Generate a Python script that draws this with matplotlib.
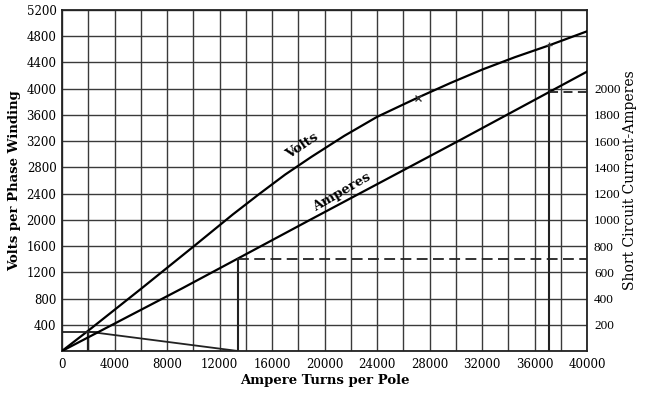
import matplotlib
matplotlib.use("Agg")
import matplotlib.pyplot as plt
from matplotlib.ticker import MultipleLocator, FixedLocator

# ---- data ----
volts_x = [0, 2000, 6000, 10000, 13000, 15000, 17000, 19000, 21500, 24000,
           27100, 29600, 32000, 34500, 37100, 40000]
volts_v = [0, 310, 945, 1590, 2080, 2390, 2690, 2960, 3280, 3570,
           3863, 4087, 4290, 4480, 4660, 4875]

amps_x = [0, 9200, 13400, 18900, 30400, 40000]
amps_a = [0, 480, 705, 1000, 1612, 2130]

# construction lines
tri_h_x = [0, 2800]
tri_h_v = [295, 295]
tri_s_x = [2000, 13400]
tri_s_v = [295, 0]
v2000_x = [2000, 2000]
v2000_v = [0, 295]
vert1_x = [13400, 13400]
vert1_a = [0, 705]
dash1_x = [13400, 40000]
dash1_a = [705, 705]
vert2_x = [37100, 37100]
vert2_v = [0, 4660]
dash2_x = [37100, 40000]
dash2_a = [1971, 1971]
mark_x = [27100]
mark_v = [3863]

x_ticks = list(range(0, 40001, 4000))
y_ticks = list(range(400, 5201, 400))
r_ticks = list(range(200, 2001, 200))

fig = plt.figure(figsize=(6.45, 3.94), dpi=100)
ax = fig.add_axes([62/645, 1-351/394, 525/645, 341/394])
ax.set_xlim(0, 40000)
ax.set_ylim(0, 5200)

ax.xaxis.set_major_locator(FixedLocator(x_ticks))
ax.xaxis.set_minor_locator(MultipleLocator(2000))
ax.yaxis.set_major_locator(FixedLocator(y_ticks))
ax.yaxis.set_minor_locator(MultipleLocator(400))
ax.grid(True, which='both', color='#3a3a3a', lw=1.0)
ax.set_axisbelow(True)
ax.tick_params(which='both', length=0)
ax.tick_params(axis='x', pad=5)
ax.tick_params(axis='y', pad=4)
for lab in ax.get_xticklabels() + ax.get_yticklabels():
    lab.set_fontfamily('DejaVu Serif')
    lab.set_fontsize(8.5)
for s in ax.spines.values():
    s.set_color('#222222')
    s.set_linewidth(1.3)

ax.plot(volts_x, volts_v, color='black', lw=1.6, zorder=5)
ax.plot(tri_h_x, tri_h_v, color='#222222', lw=1.3, zorder=5)
ax.plot(tri_s_x, tri_s_v, color='#222222', lw=1.3, zorder=5)
ax.plot(v2000_x, v2000_v, color='#222222', lw=1.6, zorder=5)
ax.plot(vert2_x, vert2_v, color='#222222', lw=1.5, zorder=5)
ax.plot(mark_x, mark_v, marker='x', color='#333333', ms=4, mew=1.0, zorder=6)
ax.plot([37100], [4660], marker='+', color='#333333', ms=5, mew=1.0, zorder=6)

ax.text(18300, 3130, 'Volts', rotation=34, ha='center', va='center',
        fontfamily='DejaVu Serif', fontweight='bold', fontsize=9.5, zorder=7)
ax.text(21300, 2420, 'Amperes', rotation=30, ha='center', va='center',
        fontfamily='DejaVu Serif', fontweight='bold', fontsize=9.5, zorder=7)

ax.set_xlabel('Ampere Turns per Pole', fontfamily='DejaVu Serif',
              fontweight='heavy', fontsize=9.5, labelpad=2)
ax.set_ylabel('Volts per Phase Winding', fontfamily='DejaVu Serif',
              fontweight='heavy', fontsize=9.5, labelpad=4)

ax2 = ax.twinx()
ax2.set_ylim(0, 2600)
ax2.yaxis.set_major_locator(FixedLocator(r_ticks))
ax2.tick_params(length=0, pad=5)
for lab in ax2.get_yticklabels():
    lab.set_fontfamily('Liberation Serif')
    lab.set_fontsize(9.5)
for s in ax2.spines.values():
    s.set_visible(False)
ax2.plot(amps_x, amps_a, color='black', lw=1.6, zorder=5)
ax2.plot(vert1_x, vert1_a, color='#222222', lw=1.5, zorder=5)
ax2.plot(dash1_x, dash1_a, color='#222222', lw=1.3, ls=(0, (6, 3)), zorder=5)
ax2.plot(dash2_x, dash2_a, color='#222222', lw=1.3, ls=(0, (5, 3)), zorder=5)
ax2.set_ylabel('Short Circuit Current-Amperes', fontfamily='DejaVu Serif',
               fontsize=10, labelpad=2)

fig.savefig('out.png', dpi=100, facecolor='white')
